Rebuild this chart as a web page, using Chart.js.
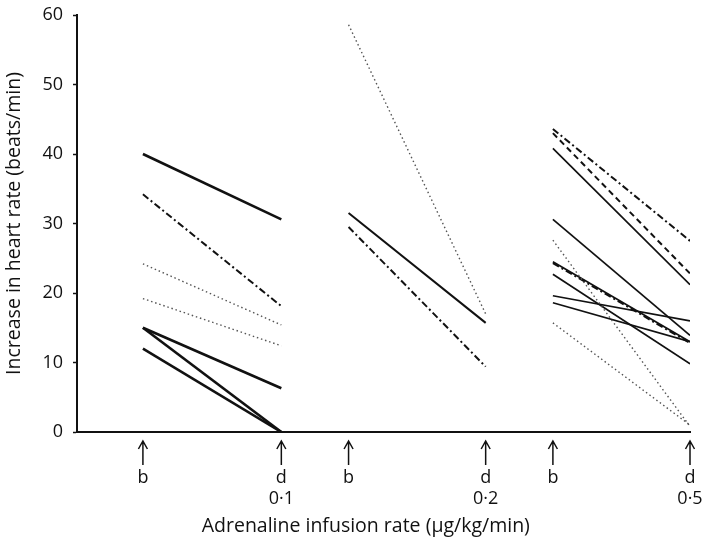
<!DOCTYPE html>
<html>
<head>
<meta charset="utf-8">
<script src="https://cdn.jsdelivr.net/npm/chart.js@4"></script>
<style>
  html, body { margin: 0; padding: 0; background: #fff; }
  #box { width: 708px; height: 542px; }
</style>
</head>
<body>
<div id="box"><canvas id="grafico"></canvas></div>
<script>
// x positions of the b / d marks on the axis (axis units)
var tickPos = [1, 3.1, 4.12, 6.2, 7.22, 9.3];
var tickText = [['b'], ['d', '0·1'], ['b'], ['d', '0·2'], ['b'], ['d', '0·5']];
var yTicks = [0, 10, 20, 30, 40, 50, 60];

// 0.1 ug/kg/min : before (b) and during (d)
var antes1 = [40, 34.2, 24.2, 19.2, 15, 15, 12];
var durante1 = [30.6, 18.1, 15.4, 12.4, 6.3, 0, 0];
var estilo1 = ['solid', 'dashdot', 'dotted', 'dotted', 'solid', 'solid', 'solid'];

// 0.2 ug/kg/min
var antes2 = [58.6, 31.5, 29.5];
var durante2 = [17, 15.7, 9.4];
var estilo2 = ['dotted', 'solid', 'dashdot'];

// 0.5 ug/kg/min
var antes3 = [43.6, 43.0, 40.8, 30.6, 27.6, 24.5, 24.3, 22.7, 19.6, 18.6, 15.7];
var durante3 = [27.5, 22.8, 21.2, 13.9, 0.8, 13.0, 12.8, 9.8, 16.0, 13.0, 1.0];
var estilo3 = ['dashdot', 'dashed', 'solid', 'solid', 'dotted', 'solid', 'dashdot', 'solid', 'solid', 'solid', 'dotted'];

var fuente = '"Open Sans", "DejaVu Sans", sans-serif';

function linea(xb, xd, yb, yd, estilo, grueso) {
	var ds = {
		data: [{x: xb, y: yb}, {x: xd, y: yd}],
		borderColor: '#111',
		borderWidth: grueso,
		pointRadius: 0,
		fill: false,
		borderCapStyle: 'butt'
	};
	if (estilo == 'dotted') {
		ds.borderColor = '#555';
		ds.borderWidth = 1.4;
		ds.borderDash = [1.5, 2.8];
	} else if (estilo == 'dashdot') {
		ds.borderDash = [7, 3, 2, 3];
		ds.borderWidth = 2;
	} else if (estilo == 'dashed') {
		ds.borderDash = [6, 4];
		ds.borderWidth = 2;
	}
	return ds;
}

var datasets = [];
for (var i in antes1) datasets.push(linea(tickPos[0], tickPos[1], antes1[i], durante1[i], estilo1[i], 2.6));
for (var i in antes2) datasets.push(linea(tickPos[2], tickPos[3], antes2[i], durante2[i], estilo2[i], 2));
for (var i in antes3) datasets.push(linea(tickPos[4], tickPos[5], antes3[i], durante3[i], estilo3[i], 1.7));

// up arrows under the x axis
var flechas = {
	id: 'flechas',
	afterDraw: function(chart) {
		var ctx = chart.ctx;
		var sx = chart.scales.x;
		var y0 = chart.chartArea.bottom + 9;
		var y1 = chart.chartArea.bottom + 33;
		ctx.save();
		ctx.strokeStyle = '#111';
		ctx.lineWidth = 1.5;
		tickPos.forEach(function(v) {
			var x = sx.getPixelForValue(v);
			ctx.beginPath();
			ctx.moveTo(x, y1);
			ctx.lineTo(x, y0);
			ctx.moveTo(x - 4.5, y0 + 8);
			ctx.lineTo(x, y0);
			ctx.lineTo(x + 4.5, y0 + 8);
			ctx.stroke();
		});
		ctx.restore();
	}
};

var ctx = document.getElementById('grafico');
var grafico = new Chart(ctx, {
	type: 'line',
	data: { datasets: datasets },
	plugins: [flechas],
	options: {
		responsive: true,
		maintainAspectRatio: false,
		animation: false,
		layout: { padding: { top: 15, right: 18, left: 0, bottom: 0 } },
		plugins: { legend: { display: false }, tooltip: { enabled: false } },
		scales: {
			x: {
				type: 'linear',
				min: 0,
				max: 9.3,
				afterFit: function(s) { s.height = 110; s.paddingLeft = 0; s.paddingRight = 0; },
				afterBuildTicks: function(s) { s.ticks = tickPos.map(function(v) { return {value: v}; }); },
				grid: { display: false, drawTicks: false },
				border: { display: true, color: '#111', width: 2 },
				ticks: {
					padding: 36,
					maxRotation: 0,
					autoSkip: false,
					color: '#111',
					font: { family: fuente, size: 18, lineHeight: 1.15 },
					callback: function(v) {
						var k = tickPos.indexOf(v);
						return k >= 0 ? tickText[k] : '';
					}
				},
				title: {
					display: true,
					text: 'Adrenaline infusion rate (μg/kg/min)\u00a0\u00a0\u00a0\u00a0\u00a0\u00a0\u00a0',
					color: '#111',
					font: { family: fuente, size: 19.5 },
					padding: { top: 0, bottom: 4 }
				}
			},
			y: {
				min: 0,
				max: 60,
				afterFit: function(s) { s.width = 77; s.paddingTop = 0; s.paddingBottom = 0; },
				afterBuildTicks: function(s) { s.ticks = yTicks.map(function(v) { return {value: v}; }); },
				grid: { drawOnChartArea: false, drawTicks: true, tickLength: 4, tickWidth: 1.5, color: '#111' },
				border: { display: true, color: '#111', width: 2 },
				ticks: {
					padding: 10,
					color: '#111',
					font: { family: fuente, size: 18 }
				},
				title: {
					display: true,
					text: 'Increase in heart rate (beats/min)',
					color: '#111',
					font: { family: fuente, size: 19.5 },
					padding: { top: 3, bottom: 0 }
				}
			}
		}
	}
});
</script>
</body>
</html>
